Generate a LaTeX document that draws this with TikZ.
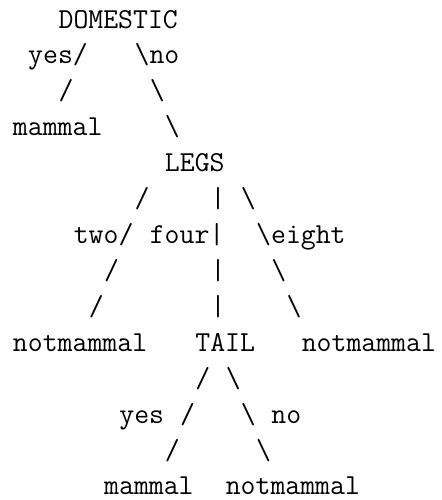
\documentclass[tikz,border=0pt]{standalone}
\begin{document}
\begin{tikzpicture}[x=15.2pt,y=-35.92pt,
  tt/.style={anchor=base west,inner sep=0pt,outer sep=0pt,
    font=\fontsize{28.95}{36}\selectfont\ttfamily}]
\useasboundingbox (0,0) rectangle (29.079,13.920);
\def\xo{0.855}
\def\yo{0.7795}
% row 1
\node[tt] (domestic) at (\xo+3,\yo+0) {DOMESTIC};
% row 2
\node[tt] (yesA) at (\xo+1,\yo+1) {yes/};
\node[tt] (noA) at (\xo+8,\yo+1) {\textbackslash{}no};
% row 3
\node[tt] (s3a) at (\xo+3,\yo+2) {/};
\node[tt] (b3a) at (\xo+9,\yo+2) {\textbackslash};
% row 4
\node[tt] (mammalA) at (\xo+0,\yo+3) {mammal};
\node[tt] (b4a) at (\xo+10,\yo+3) {\textbackslash};
% row 5
\node[tt] (legs) at (\xo+10,\yo+4) {LEGS};
% row 6
\node[tt] (s6a) at (\xo+8,\yo+5) {/};
\node[tt] (p6a) at (\xo+13,\yo+5) {|};
\node[tt] (b6a) at (\xo+15,\yo+5) {\textbackslash};
% row 7
\node[tt] (two) at (\xo+4,\yo+6) {two/};
\node[tt] (four) at (\xo+9,\yo+6) {four|};
\node[tt] (eight) at (\xo+16,\yo+6) {\textbackslash{}eight};
% row 8
\node[tt] (s8a) at (\xo+6,\yo+7) {/};
\node[tt] (p8a) at (\xo+13,\yo+7) {|};
\node[tt] (b8a) at (\xo+17,\yo+7) {\textbackslash};
% row 9
\node[tt] (s9a) at (\xo+5,\yo+8) {/};
\node[tt] (p9a) at (\xo+13,\yo+8) {|};
\node[tt] (b9a) at (\xo+18,\yo+8) {\textbackslash};
% row 10
\node[tt] (notmammalA) at (\xo+0,\yo+9) {notmammal};
\node[tt] (tail) at (\xo+12,\yo+9) {TAIL};
\node[tt] (notmammalB) at (\xo+19,\yo+9) {notmammal};
% row 11
\node[tt] (s11a) at (\xo+12,\yo+10) {/};
\node[tt] (b11a) at (\xo+14,\yo+10) {\textbackslash};
% row 12
\node[tt] (yesB) at (\xo+7,\yo+11) {yes};
\node[tt] (s12a) at (\xo+11,\yo+11) {/};
\node[tt] (b12a) at (\xo+15,\yo+11) {\textbackslash};
\node[tt] (noB) at (\xo+17,\yo+11) {no};
% row 13
\node[tt] (s13a) at (\xo+10,\yo+12) {/};
\node[tt] (b13a) at (\xo+16,\yo+12) {\textbackslash};
% row 14
\node[tt] (mammalB) at (\xo+6,\yo+13) {mammal};
\node[tt] (notmammalC) at (\xo+14,\yo+13) {notmammal};
\end{tikzpicture}
\end{document}
